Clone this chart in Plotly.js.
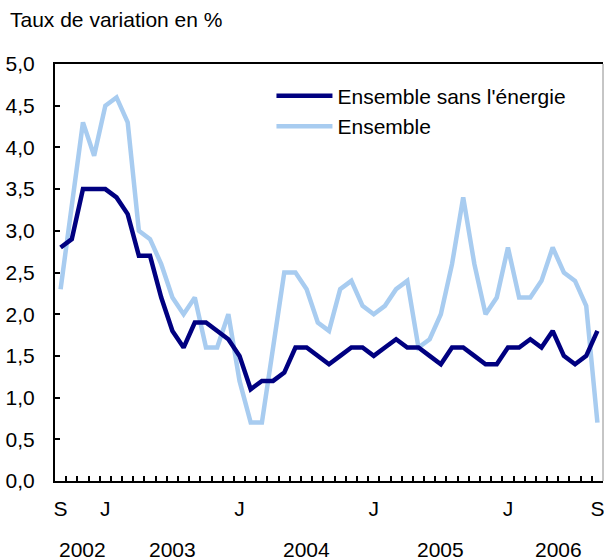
<!DOCTYPE html>
<html>
<head>
<meta charset="utf-8">
<script src="https://cdn.plot.ly/plotly-3.0.1.min.js"></script>
<style>
html,body{margin:0;padding:0;background:#fff;}
#chart{width:604px;height:560px;}
</style>
</head>
<body>
<div id="chart"></div>
<script>
// Months from September 2002 to September 2006
var months = ['2002-09','2002-10','2002-11','2002-12',
  '2003-01','2003-02','2003-03','2003-04','2003-05','2003-06','2003-07','2003-08','2003-09','2003-10','2003-11','2003-12',
  '2004-01','2004-02','2004-03','2004-04','2004-05','2004-06','2004-07','2004-08','2004-09','2004-10','2004-11','2004-12',
  '2005-01','2005-02','2005-03','2005-04','2005-05','2005-06','2005-07','2005-08','2005-09','2005-10','2005-11','2005-12',
  '2006-01','2006-02','2006-03','2006-04','2006-05','2006-06','2006-07','2006-08','2006-09'];

var ensembleSansEnergie = [2.8,2.9,3.5,3.5,3.5,3.4,3.2,2.7,2.7,2.2,
  1.8,1.6,1.9,1.9,1.8,1.7,1.5,1.1,1.2,1.2,
  1.3,1.6,1.6,1.5,1.4,1.5,1.6,1.6,1.5,1.6,
  1.7,1.6,1.6,1.5,1.4,1.6,1.6,1.5,1.4,1.4,
  1.6,1.6,1.7,1.6,1.8,1.5,1.4,1.5,1.8];

var ensemble = [2.3,3.3,4.3,3.9,4.5,4.6,4.3,3.0,2.9,2.6,
  2.2,2.0,2.2,1.6,1.6,2.0,1.2,0.7,0.7,1.6,
  2.5,2.5,2.3,1.9,1.8,2.3,2.4,2.1,2.0,2.1,
  2.3,2.4,1.6,1.7,2.0,2.6,3.4,2.6,2.0,2.2,
  2.8,2.2,2.2,2.4,2.8,2.5,2.4,2.1,0.7];

var seriesNames = ["Ensemble sans l'énergie", "Ensemble"];
var yearLabels = ['2002','2003','2004','2005','2006'];
var yTickVals = [0,0.5,1,1.5,2,2.5,3,3.5,4,4.5,5];

// Month tick labels: S at first and last month, J for each January
var monthTickText = months.map(function(m, i){
  if (i === 0 || i === months.length - 1) return 'S';
  return m.slice(5) === '01' ? 'J' : '';
});

var FONT = 'Liberation Sans, Arial, Helvetica, sans-serif';
var FS = 21;

var traces = [
  {x: months, y: ensemble, name: seriesNames[1], type: 'scatter', mode: 'lines',
   line: {color: '#a8ccf0', width: 4.5}, legendrank: 2},
  {x: months, y: ensembleSansEnergie, name: seriesNames[0], type: 'scatter', mode: 'lines',
   line: {color: '#000080', width: 4.5}, legendrank: 1}
];

// Year annotations centred on each year's months
var annotations = yearLabels.map(function(yr){
  var idx = [];
  months.forEach(function(m, i){ if (m.slice(0,4) === yr) idx.push(i); });
  var c = (idx[0] + idx[idx.length-1]) / 2 + 0.5;
  return {x: c, xref: 'x', y: -(549 - 481) / 417, yref: 'paper', text: yr, showarrow: false,
          xanchor: 'center', yanchor: 'middle', font: {family: FONT, size: FS, color: '#000'}};
});

var layout = {
  width: 604, height: 560,
  margin: {l: 55, r: 1, t: 64, b: 79},
  paper_bgcolor: '#fff', plot_bgcolor: '#fff',
  separators: ', ',
  font: {family: FONT, size: FS, color: '#000'},
  title: {text: 'Taux de variation en %', x: 10/604, xref: 'container', xanchor: 'left',
          y: 1 - 20/560, yref: 'container', yanchor: 'middle',
          font: {family: FONT, size: FS, color: '#000'}},
  showlegend: true,
  legend: {x: 0.395, xanchor: 'left', y: 0.972, yanchor: 'top', bgcolor: 'rgba(0,0,0,0)',
           font: {family: FONT, size: FS, color: '#000'}, itemwidth: 56, tracegroupgap: 0},
  xaxis: {type: 'category', range: [-0.5, 48.5], tickvals: months, ticktext: monthTickText,
          tickangle: 0, tickson: 'boundaries', ticks: 'inside', ticklen: 5, tickwidth: 2, tickcolor: '#000',
          showline: true, linecolor: '#000', linewidth: 2, mirror: true, showgrid: false,
          zeroline: false, ticklabelstandoff: 8, tickfont: {family: FONT, size: FS, color: '#000'}},
  yaxis: {range: [0, 5], tickvals: yTickVals, tickformat: '.1f', ticks: 'inside', ticklen: 5,
          tickwidth: 2, tickcolor: '#000', showline: true, linecolor: '#000', linewidth: 2,
          showgrid: false, zeroline: false, ticklabelstandoff: 14,
          tickfont: {family: FONT, size: FS, color: '#000'}},
  shapes: [{type: 'line', xref: 'paper', yref: 'paper', x0: 1, x1: 1, y0: 0, y1: 1,
            line: {color: '#8c8c8c', width: 1}}],
  annotations: annotations
};

Plotly.newPlot('chart', traces, layout, {displayModeBar: false, staticPlot: true});
</script>
</body>
</html>
